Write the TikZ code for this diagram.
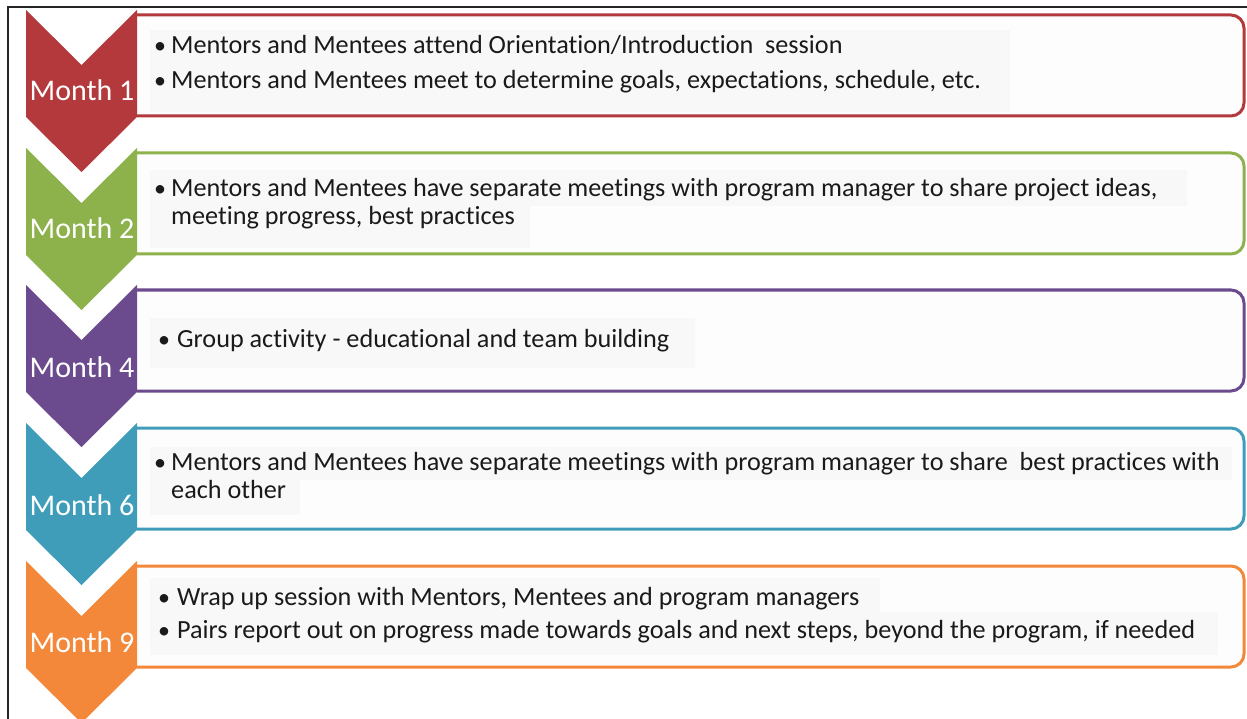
\documentclass[tikz,border=0pt]{standalone}
\usepackage{fontspec}
\setmainfont{Carlito}[Ligatures=NoCommon]
\definecolor{cRed}{HTML}{B3393C}
\definecolor{cGreen}{HTML}{8DB24B}
\definecolor{cPurple}{HTML}{6B4B8E}
\definecolor{cTeal}{HTML}{409DBA}
\definecolor{cOrange}{HTML}{F3883A}
\definecolor{boxfill}{HTML}{FDFDFD}
\definecolor{txtbg}{HTML}{F8F8F8}
\definecolor{txt}{HTML}{1A1A1A}
\tikzset{
  monthlabel/.style={text=white, font=\fontsize{30}{32}\selectfont, inner sep=0pt, anchor=base},
  bodytext/.style={text=txt, font=\fontsize{26.2}{28}\selectfont, inner sep=0pt, anchor=base west},
  bullet/.style={text=txt, font=\fontsize{24}{26}\selectfont, inner sep=0pt, anchor=base west},
  framebox/.style={line width=3pt, fill=boxfill, rounded corners=13pt},
}
\begin{document}
\begin{tikzpicture}[x=1pt,y=-1pt]
\useasboundingbox[fill=white] (0,0) rectangle (1247,719);
\begin{scope}
\clip (0,0) rectangle (1247,719);
% frame
\draw[line width=1.6pt, black!85] (8,719) -- (8,7) -- (1247,7);
% rows
\foreach \top/\btop/\col in {10/15/cRed, 148/153/cGreen, 285/290/cPurple, 423/428/cTeal, 561/566/cOrange}{
  \path[framebox, draw=\col] (137,\btop) -- (1244,\btop) -- (1244,\btop+101) -- (137,\btop+101);
}
% faint text backgrounds
\fill[txtbg] (150,30) rectangle (1010,112);
\fill[txtbg] (150,170) rectangle (1187,206);
\fill[txtbg] (150,206) rectangle (530,248);
\fill[txtbg] (150,318) rectangle (695,368);
\fill[txtbg] (150,447) rectangle (1232,480);
\fill[txtbg] (150,480) rectangle (300,515);
\fill[txtbg] (150,578) rectangle (880,612);
\fill[txtbg] (150,612) rectangle (1218,655);
\foreach \top/\col in {10/cRed, 148/cGreen, 285/cPurple, 423/cTeal, 561/cOrange}{
  \fill[\col] (26,\top) -- (81.5,\top+55) -- (137,\top) -- (137,\top+107) -- (81.5,\top+162) -- (26,\top+107) -- cycle;
}
\end{scope}
% month labels
\node[monthlabel] (m1) at (82,101) {Month 1};
\node[monthlabel] (m2) at (82,239) {Month 2};
\node[monthlabel] (m4) at (82,377) {Month 4};
\node[monthlabel] (m6) at (82,515) {Month 6};
\node[monthlabel] (m9) at (82,652) {Month 9};
% row 1
\node[bullet] (b1a) at (154,54) {•};
\node[bodytext] (t1a) at (171,54) {Mentors and Mentees attend Orientation/Introduction\ \ session};
\node[bullet] (b1b) at (154,89) {•};
\node[bodytext] (t1b) at (171,89) {Mentors and Mentees meet to determine goals, expectations, schedule, etc.};
% row 2
\node[bullet] (b2a) at (154,197) {•};
\node[bodytext] (t2a) at (171,197) {Mentors and Mentees have separate meetings with program manager to share project ideas,};
\node[bodytext] (t2b) at (171,225) {meeting progress, best practices};
% row 3
\node[bullet] (b3a) at (158,347) {•};
\node[bodytext] (t3a) at (177,347) {Group activity - educational and team building};
% row 4
\node[bullet] (b4a) at (154,470) {•};
\node[bodytext] (t4a) at (171,470) {Mentors and Mentees have separate meetings with program manager to share\ \ best practices with};
\node[bodytext] (t4b) at (171,498) {each other};
% row 5
\node[bullet] (b5a) at (158,605) {•};
\node[bodytext] (t5a) at (177,605) {Wrap up session with Mentors, Mentees and program managers};
\node[bullet] (b5b) at (158,638) {•};
\node[bodytext] (t5b) at (177,638) {Pairs report out on progress made towards goals and next steps, beyond the program, if needed};
\end{tikzpicture}
\end{document}
